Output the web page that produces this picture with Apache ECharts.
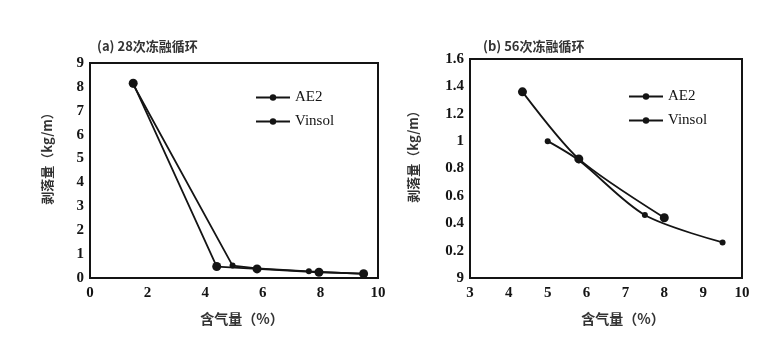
<!DOCTYPE html>
<html>
<head>
<meta charset="utf-8">
<script src="https://cdn.jsdelivr.net/npm/echarts@6/dist/echarts.min.js"></script>
<style>
  html, body { margin: 0; padding: 0; background: #fff; }
  #chart { width: 770px; height: 349px; }
</style>
</head>
<body>
<div id="chart"></div>
<script>
// Scaling loss vs. air content after freeze-thaw cycles
const seriesNames = ['AE2', 'Vinsol'];

// (a) 28 cycles: [air content %, scaling kg/m]
const ae2Cycle28 = [[1.5, 8.15], [4.4, 0.48], [5.8, 0.38], [7.95, 0.24], [9.5, 0.18]];
const vinsolCycle28 = [[1.5, 8.1], [4.95, 0.52], [5.8, 0.4], [7.6, 0.28], [9.5, 0.17]];

// (b) 56 cycles
const ae2Cycle56 = [[4.35, 1.36], [5.8, 0.87], [8.0, 0.44]];
const vinsolCycle56 = [[5.0, 1.0], [5.8, 0.86], [7.5, 0.46], [9.5, 0.26]];

const titleA = '(a) 28次冻融循环';
const titleB = '(b) 56次冻融循环';
const xName = '含气量（%）';
const yName = '剥落量（kg/m）';

const ink = '#141414';
const serif = '"Liberation Serif", "DejaVu Serif", serif';
const cjk = '"Noto Sans CJK SC", sans-serif';

function axisCommon() {
  return {
    axisLine: { show: true, lineStyle: { color: ink, width: 2 } },
    axisTick: { show: false },
    splitLine: { show: false },
    axisLabel: { color: ink, fontFamily: serif, fontSize: 15, fontWeight: 'bold' }
  };
}

function xAxis(gridIndex, min, max, interval, shift) {
  return Object.assign(axisCommon(), {
    type: 'value', gridIndex, min, max, interval,
    name: xName, nameLocation: 'middle', nameGap: 34,
    nameTextStyle: { color: '#333', fontFamily: cjk, fontSize: 14, fontWeight: 'bold', padding: [0, 0, 0, shift] }
  });
}

function yAxis(gridIndex, min, max, interval, formatter, gap) {
  const ax = Object.assign(axisCommon(), {
    type: 'value', gridIndex, min, max, interval,
    name: yName, nameLocation: 'middle', nameRotate: 90, nameGap: gap,
    nameTextStyle: { color: '#333', fontFamily: cjk, fontSize: 13, fontWeight: 'bold', padding: [0, 0, 0, 30] }
  });
  ax.axisLabel = Object.assign({}, ax.axisLabel, { formatter, margin: 6 });
  return ax;
}

function lineSeries(name, data, xi, size, smooth) {
  return {
    name, type: 'line', data, xAxisIndex: xi, yAxisIndex: xi,
    smooth, symbol: 'circle', symbolSize: size,
    lineStyle: { color: ink, width: 1.8 },
    itemStyle: { color: ink },
    emphasis: { disabled: true },
    animation: false
  };
}

const legendText = { color: ink, fontFamily: serif, fontSize: 15 };

const chart = echarts.init(document.getElementById('chart'), null, { renderer: 'canvas' });
chart.setOption({
  backgroundColor: '#fff',
  animation: false,
  title: [
    { text: titleA, left: 92, top: 35, textStyle: { color: '#333', fontFamily: cjk, fontSize: 13, fontWeight: 'bold' } },
    { text: titleB, left: 478, top: 35, textStyle: { color: '#333', fontFamily: cjk, fontSize: 13, fontWeight: 'bold' } }
  ],
  grid: [
    { left: 90, right: 392, top: 63, bottom: 71, show: true, borderColor: ink, borderWidth: 2, containLabel: false },
    { left: 470, right: 28, top: 59, bottom: 71, show: true, borderColor: ink, borderWidth: 2, containLabel: false }
  ],
  legend: [
    {
      data: seriesNames, orient: 'vertical', left: 250, top: 85, itemGap: 9,
      itemWidth: 34, itemHeight: 8, textStyle: legendText
    },
    {
      data: seriesNames, orient: 'vertical', left: 623, top: 84, itemGap: 9,
      itemWidth: 34, itemHeight: 8, textStyle: legendText
    }
  ],
  xAxis: [xAxis(0, 0, 10, 2, 16), xAxis(1, 3, 10, 1, 34)],
  yAxis: [
    yAxis(0, 0, 9, 1, v => String(v), 36),
    yAxis(1, 0, 1.6, 0.2, v => (v === 0 ? '9' : String(+v.toFixed(1))), 50)
  ],
  series: [
    lineSeries(seriesNames[0], ae2Cycle28, 0, 9, false),
    lineSeries(seriesNames[1], vinsolCycle28, 0, 6, false),
    lineSeries(seriesNames[0], ae2Cycle56, 1, 9, 0.25),
    lineSeries(seriesNames[1], vinsolCycle56, 1, 6, 0.3)
  ]
});
</script>
</body>
</html>
